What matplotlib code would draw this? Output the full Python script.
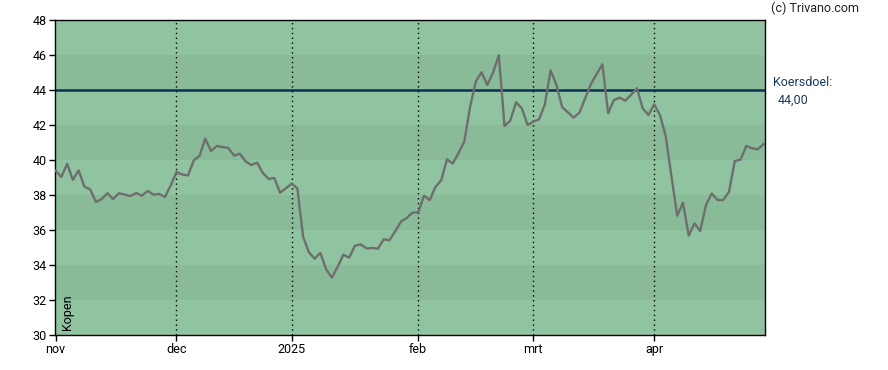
import matplotlib
matplotlib.use('Agg')
import matplotlib.pyplot as plt
import numpy as np

plt.rcParams['font.family'] = ['Roboto', 'DejaVu Sans']

# koers per handelsdag, nov 2024 - apr 2025
prices = [39.39, 39.03, 39.79, 38.86, 39.41, 38.48, 38.32, 37.60, 37.77, 38.10,
          37.77, 38.10, 38.02, 37.94, 38.11, 37.96, 38.23, 38.02, 38.06, 37.89,
          38.55, 39.31, 39.17, 39.12, 39.98, 40.23, 41.22, 40.51, 40.80, 40.74,
          40.69, 40.25, 40.36, 39.92, 39.71, 39.85, 39.26, 38.92, 38.97, 38.13,
          38.38, 38.65, 38.38, 35.62, 34.73, 34.36, 34.69, 33.75, 33.28, 33.90,
          34.59, 34.42, 35.10, 35.18, 34.95, 34.97, 34.93, 35.47, 35.41, 35.92,
          36.48, 36.69, 36.99, 37.01, 37.96, 37.71, 38.46, 38.84, 40.04, 39.79,
          40.40, 41.05, 43.01, 44.48, 45.01, 44.29, 44.99, 45.98, 41.94, 42.25,
          43.30, 42.95, 42.00, 42.19, 42.32, 43.18, 45.12, 44.30, 43.03, 42.72,
          42.42, 42.70, 43.52, 44.34, 44.91, 45.47, 42.67, 43.43, 43.56, 43.39,
          43.73, 44.10, 42.95, 42.57, 43.18, 42.57, 41.37, 39.05, 36.82, 37.56,
          35.68, 36.38, 35.94, 37.43, 38.08, 37.71, 37.71, 38.19, 39.94, 40.02,
          40.80, 40.67, 40.61, 40.91]
month_idx = [0, 21, 41, 63, 83, 104]
month_labels = ['nov', 'dec', '2025', 'feb', 'mrt', 'apr']
target = 44.00
y_ticks = [30, 32, 34, 36, 38, 40, 42, 44, 46, 48]

fig = plt.figure(figsize=(8.88, 3.70), dpi=100)
ax = fig.add_axes([0.0623, 0.0946, 0.7995, 0.8514])

x = np.arange(len(prices))
ax.set_xlim(-0.05, len(prices) - 1 + 0.3)
ax.set_ylim(30, 48)

# horizontale banden
for k, lo in enumerate(range(30, 48, 2)):
    c = '#90c3a0' if k % 2 == 0 else '#8abb98'
    ax.axhspan(lo, lo + 2, color=c, lw=0, zorder=0)

for m in month_idx[1:]:
    ax.axvline(m, color='black', ls=(0, (1, 2.5)), lw=1, zorder=1)

ax.axhline(target, color='#0b3050', lw=1.8, zorder=2)
ax.plot(x, prices, color='#6e6e6e', lw=1.7, zorder=3)

ax.set_xticks(month_idx)
ax.set_xticklabels(month_labels)
ax.set_yticks(y_ticks)
ax.tick_params(labelsize=9, length=4, width=1, color='black', pad=2)
for s in ax.spines.values():
    s.set_color('black')
    s.set_linewidth(1)

ax.text(0.008, 0.015, 'Kopen', rotation=90, transform=ax.transAxes,
        fontsize=9, ha='left', va='bottom')

fig.text(0.870, 0.776, 'Koersdoel:', fontsize=9, color='#1b3a5a', va='center')
fig.text(0.876, 0.730, '44,00', fontsize=9, color='#1b3a5a', va='center')
fig.text(0.868, 0.978, '(c) Trivano.com', fontsize=9, color='#222222', va='center')

fig.savefig('out.png', dpi=100)
